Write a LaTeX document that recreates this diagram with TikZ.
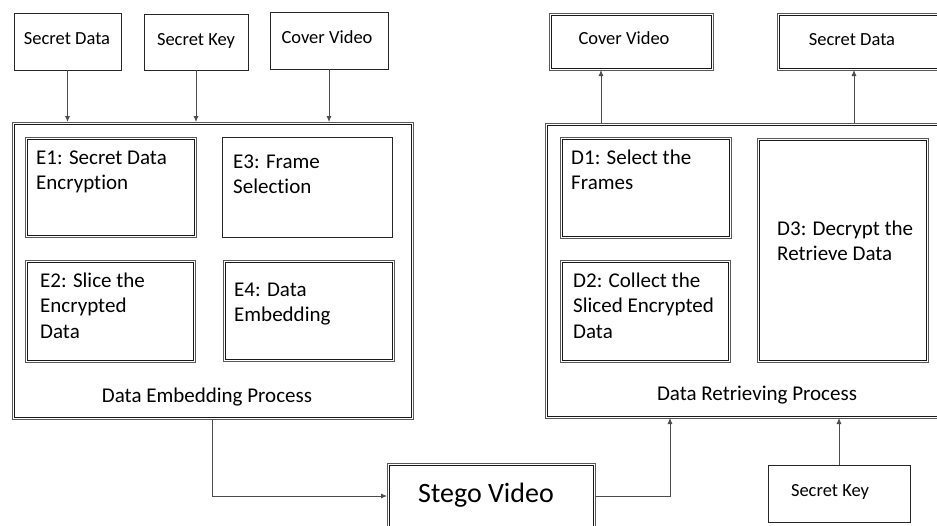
\documentclass[tikz,border=0pt]{standalone}
\usepackage{fontspec}
\setmainfont[Ligatures=NoCommon]{Carlito}
\usetikzlibrary{arrows.meta}
\begin{document}
\begin{tikzpicture}[x=1pt,y=-1pt,
  sbox/.style={draw=black!85, line width=1pt, inner sep=0pt, outer sep=0pt, anchor=north west},
  % box with a thin second frame drawn just inside the first
  dbox/.style={draw=black!65, line width=0.7pt, inner sep=0pt, outer sep=0pt, anchor=north west,
    append after command={\pgfextra{\draw[black!90, line width=0.7pt]
      ([shift={(1.9pt,-1.9pt)}]\tikzlastnode.north west) rectangle
      ([shift={(-1.9pt,1.9pt)}]\tikzlastnode.south east);}}},
  lbl/.style={inner sep=0pt, align=left, anchor=base west, font=\fontsize{21}{25.5}\selectfont},
  io/.style={inner sep=0pt, anchor=base, font=\fontsize{18.5}{22}\selectfont},
  flow/.style={draw=black!70, line width=0.8pt, -{Latex[length=6pt,width=5pt]}}
]
\useasboundingbox (0,0) rectangle (937,525);
\clip (0,0) rectangle (937,525);

% inputs of the embedding side
\node[sbox, minimum width=107pt, minimum height=57pt] (sdin) at (14,13) {};
\node[sbox, minimum width=104pt, minimum height=56pt] (skin) at (144,14) {};
\node[sbox, minimum width=118pt, minimum height=57pt] (cvin) at (270,12) {};
\node[io] (tsdin) at (67,44) {Secret Data};
\node[io] (tskin) at (196,45) {Secret Key};
\node[io] (tcvin) at (327,43) {Cover Video};

% embedding process (multi-line labels sit on the baseline of their last line)
\node[dbox, minimum width=401pt, minimum height=297pt] (emb) at (12,122) {};
\node[dbox, minimum width=171pt, minimum height=100pt] (e1) at (25,137) {};
\node[sbox, minimum width=170pt, minimum height=100pt] (e3) at (222,137) {};
\node[dbox, minimum width=170pt, minimum height=102pt] (e2) at (25,260) {};
\node[dbox, minimum width=171pt, minimum height=101pt] (e4) at (223,260) {};
\node[lbl] (te1) at (36,189.5) {E1: Secret Data\\Encryption};
\node[lbl] (te3) at (233,193.5) {E3: Frame\\Selection};
\node[lbl] (te2) at (40,338) {E2: Slice the\\Encrypted\\Data};
\node[lbl] (te4) at (234,321.5) {E4: Data\\Embedding};
\node[lbl, anchor=base] (temb) at (207,402) {Data Embedding Process};

% retrieving process
\node[dbox, minimum width=410pt, minimum height=295pt] (ret) at (545,123) {};
\node[dbox, minimum width=171pt, minimum height=101pt] (d1) at (560,137) {};
\node[dbox, minimum width=170pt, minimum height=102pt] (d2) at (560,260) {};
\node[dbox, minimum width=171pt, minimum height=224pt] (d3) at (757,138) {};
\node[lbl] (td1) at (571,189.5) {D1: Select the\\Frames};
\node[lbl] (td2) at (573,338) {D2: Collect the\\Sliced Encrypted\\Data};
\node[lbl] (td3) at (777,260.5) {D3: Decrypt the\\Retrieve Data};
\node[lbl, anchor=base] (tret) at (757,400) {Data Retrieving Process};

% outputs of the retrieving side
\node[dbox, minimum width=164pt, minimum height=57pt] (cvout) at (549,13) {};
\node[dbox, minimum width=175pt, minimum height=57pt] (sdout) at (777,13) {};
\node[io] (tcvout) at (624,44) {Cover Video};
\node[io] (tsdout) at (852,45) {Secret Data};

% stego video and key for retrieval
\node[dbox, minimum width=208pt, minimum height=66pt] (stego) at (387,463) {};
\node[inner sep=0pt, anchor=base, font=\fontsize{28}{32}\selectfont] (tstego) at (486,502) {Stego Video};
\node[sbox, minimum width=142pt, minimum height=57pt] (skout) at (768,465) {};
\node[io] (tskout) at (830,496) {Secret Key};

% connectors
\draw[flow] (sdin.south) -- (sdin.south |- emb.north);
\draw[flow] (skin.south) -- (skin.south |- emb.north);
\draw[flow] (cvin.south) -- (cvin.south |- emb.north);
\draw[flow] ([xshift=-30pt]cvout.south |- ret.north) -- ([xshift=-30pt]cvout.south);
\draw[flow] ([xshift=-10.5pt]sdout.south |- ret.north) -- ([xshift=-10.5pt]sdout.south);
\draw[flow] (emb.south) |- (stego.west);
\draw[flow] (stego.east) -| ([xshift=-80pt]ret.south);
\draw[flow] (skout.north) -- (skout.north |- ret.south);
\end{tikzpicture}
\end{document}
